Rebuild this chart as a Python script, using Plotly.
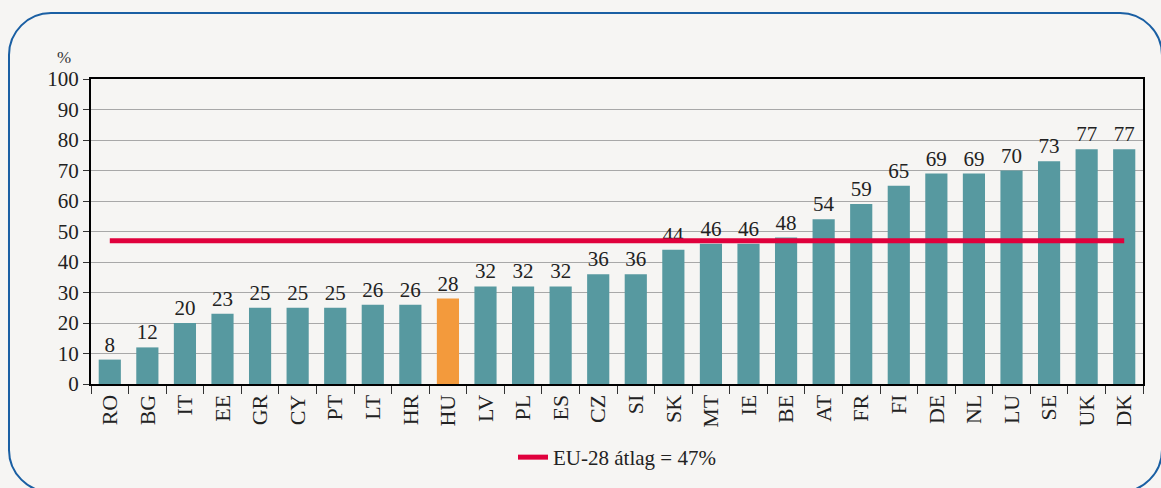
import plotly.graph_objects as go

countries = ["RO", "BG", "IT", "EE", "GR", "CY", "PT", "LT", "HR", "HU", "LV", "PL", "ES", "CZ", "SI",
             "SK", "MT", "IE", "BE", "AT", "FR", "FI", "DE", "NL", "LU", "SE", "UK", "DK"]
values = [8, 12, 20, 23, 25, 25, 25, 26, 26, 28, 32, 32, 32, 36, 36,
          44, 46, 46, 48, 54, 59, 65, 69, 69, 70, 73, 77, 77]
eu_avg = 47
avg_label = "EU-28 átlag = 47%"
highlight = "HU"

TEAL = "#5799a0"
ORANGE = "#f39a3c"
RED = "#e0003c"
BG = "#f6f5f3"
FONT = "Liberation Serif"

W, H = 1161, 488
ML, MR, MT, MB = 91, 18, 79, 104
PW, PH = W - ML - MR, H - MT - MB

colors = [ORANGE if c == highlight else TEAL for c in countries]

fig = go.Figure()
fig.add_trace(go.Bar(
    x=countries, y=values, marker=dict(color=colors, line=dict(width=0)),
    text=[str(v) for v in values], textposition="outside", cliponaxis=False,
    textfont=dict(family=FONT, size=21, color="#222"), showlegend=False,
))
fig.add_trace(go.Scatter(
    x=[countries[0], countries[-1]], y=[eu_avg, eu_avg], mode="lines",
    line=dict(color=RED, width=5), name=avg_label, showlegend=True,
))

def px(x):
    return (x - ML) / PW

def py(y):
    return (H - MB - y) / PH

# rounded frame
x0, x1, y0, y1, r = 9, 1162, 13, 492, 42
path = (
    f"M {px(x0)},{py(y0 + r)} "
    f"C {px(x0)},{py(y0 + r*0.45)} {px(x0 + r*0.45)},{py(y0)} {px(x0 + r)},{py(y0)} "
    f"L {px(x1 - r)},{py(y0)} "
    f"C {px(x1 - r*0.45)},{py(y0)} {px(x1)},{py(y0 + r*0.45)} {px(x1)},{py(y0 + r)} "
    f"L {px(x1)},{py(y1 - r)} "
    f"C {px(x1)},{py(y1 - r*0.45)} {px(x1 - r*0.45)},{py(y1)} {px(x1 - r)},{py(y1)} "
    f"L {px(x0 + r)},{py(y1)} "
    f"C {px(x0 + r*0.45)},{py(y1)} {px(x0)},{py(y1 - r*0.45)} {px(x0)},{py(y1 - r)} Z"
)
fig.add_shape(type="path", xref="paper", yref="paper", path=path,
              line=dict(color="#1a5fa3", width=2), layer="below")

fig.add_annotation(x=px(55), y=py(46), xref="paper", yref="paper", text="%",
                   showarrow=False, font=dict(family=FONT, size=17, color="#333"))

fig.update_layout(
    width=W, height=H,
    margin=dict(l=ML, r=MR, t=MT, b=MB, autoexpand=False),
    paper_bgcolor=BG, plot_bgcolor=BG,
    bargap=0.41,
    font=dict(family=FONT, size=21, color="#222"),
    legend=dict(orientation="h", x=0.5, xanchor="center", y=py(437), yanchor="top",
                font=dict(family=FONT, size=21, color="#222"), bgcolor="rgba(0,0,0,0)"),
    xaxis=dict(tickangle=-90, showline=True, linecolor="black", linewidth=2, mirror=True,
               ticks="outside", tickson="boundaries", ticklen=8, tickcolor="#333",
               automargin=False,
               tickfont=dict(family=FONT, size=22, color="#222"), showgrid=False),
    yaxis=dict(range=[0, 100], dtick=10, showline=True, linecolor="black", linewidth=2,
               mirror=True, ticks="outside", ticklen=6, tickcolor="#333", automargin=False,
               showgrid=True, gridcolor="#a8a8a8", gridwidth=1, zeroline=False,
               tickfont=dict(family=FONT, size=21, color="#222")),
)

fig.write_html(
    "out.html",
    config={"displayModeBar": False},
    post_script="document.body.style.margin='0';document.body.style.background='%s';" % BG,
)
